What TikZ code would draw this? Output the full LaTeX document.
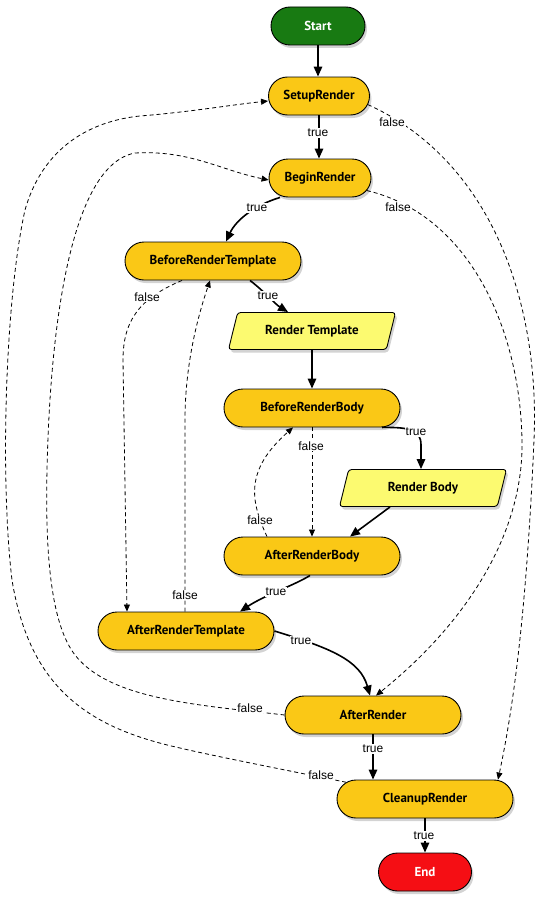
\documentclass[tikz,border=0pt]{standalone}
\usepackage{fontspec}
\usetikzlibrary{arrows.meta,shapes.misc,shapes.geometric,shadows,calc}
\newfontfamily\nodefont{PT Sans}
\newfontfamily\lblfont{Liberation Sans}
\definecolor{startgreen}{RGB}{24,122,18}
\definecolor{endred}{RGB}{245,14,20}
\definecolor{stepfill}{RGB}{250,200,22}
\definecolor{iofill}{RGB}{252,250,112}
\begin{document}
\begin{tikzpicture}[x=1pt,y=-1pt,
  shad/.style={drop shadow={shadow xshift=2pt,shadow yshift=-3pt,opacity=0.35}},
  box/.style={rounded rectangle, draw=black, line width=0.9pt, minimum height=38pt,
    inner sep=2pt, font=\nodefont\bfseries\fontsize{13}{15}\selectfont, shad},
  stepbox/.style={box, fill=stepfill, minimum width=180pt},
  iobox/.style={trapezium, trapezium left angle=60, trapezium right angle=120,
    trapezium stretches body=true, draw=black, line width=0.9pt, fill=iofill,
    minimum width=167pt, minimum height=37pt, rounded corners=3pt, inner sep=2pt,
    font=\nodefont\bfseries\fontsize{13}{15}\selectfont, shad},
  tru/.style={line width=1.6pt, -{Triangle[length=10pt,width=8.5pt]}},
  fls/.style={line width=0.8pt, dash pattern=on 4pt off 3pt, -{Triangle[length=7pt,width=6pt]}},
  lbl/.style={fill=white, inner sep=1pt, font=\lblfont\fontsize{12}{14}\selectfont}
]
\useasboundingbox (0,0) rectangle (539,907);

% nodes
\node[box, fill=startgreen, text=white, minimum width=98pt] (start) at (318,26) {Start};
\node[stepbox, minimum width=105pt] (setup) at (319,96) {SetupRender};
\node[stepbox, minimum width=106pt] (begin) at (320,178) {BeginRender};
\node[stepbox] (brt) at (213,261) {BeforeRenderTemplate};
\node[iobox] (rt) at (312,331) {Render Template};
\node[stepbox] (brb) at (312,408) {BeforeRenderBody};
\node[iobox] (rb) at (423,488) {Render Body};
\node[stepbox] (arb) at (312,556) {AfterRenderBody};
\node[stepbox] (art) at (186,631) {AfterRenderTemplate};
\node[stepbox] (ar) at (373,715) {AfterRender};
\node[stepbox] (cleanup) at (425,799) {CleanupRender};
\node[box, fill=endred, text=white, minimum width=97pt] (end) at (425,872) {End};

% solid (true) connectors
\draw[tru] (start.south) -- (start.south |- setup.north);
\draw[tru] (setup.south) -- (setup.south |- begin.north);
\draw[tru] ([xshift=-40pt]begin.south) .. controls (255,205) and (236,220) .. ([xshift=13pt]brt.north);
\draw[tru] ([xshift=37pt]brt.south) .. controls (265,292) and (275,304) .. ([xshift=-24pt]rt.north);
\draw[tru] (rt.south) -- (brb.north);
\draw[tru] ([xshift=70pt]brb.south) .. controls (410,427) and (421,430) .. (421,445) -- ([xshift=-2pt]rb.north);
\draw[tru] ([xshift=-33pt]rb.south) -- ([xshift=38pt]arb.north);
\draw[tru] ([xshift=-2pt]arb.south) .. controls (295,585) and (265,595) .. ([xshift=54pt]art.north);
\draw[tru] (art.east) .. controls (330,648) and (360,660) .. ([xshift=-3pt]ar.north);
\draw[tru] (ar.south) -- (ar.south |- cleanup.north);
\draw[tru] (cleanup.south) -- (end.north);

% dashed (false) connectors
\draw[fls] (setup.-10) .. controls (490,160) and (540,300) .. (534,440)
  .. controls (527,600) and (515,700) .. ([xshift=73pt]cleanup.north);
\draw[fls] (begin.-15) .. controls (470,215) and (520,330) .. (522,440)
  .. controls (524,530) and (470,620) .. ([xshift=3pt]ar.north);
\draw[fls] ([xshift=-31pt]brt.south) .. controls (140,298) and (123,320) .. (123,360)
  -- ([xshift=-59pt]art.north);
\draw[fls] (brb.south) -- (arb.north);
\draw[fls] ([xshift=-45pt]arb.north) .. controls (250,500) and (245,470) .. ([xshift=-19pt]brb.south);
\draw[fls] ([xshift=-1pt]art.north) -- (185,420) .. controls (185,360) and (200,310) .. ([xshift=-3pt]brt.south);
\draw[fls] (ar.west) .. controls (200,705) and (110,700) .. (75,655)
  .. controls (52,625) and (45,560) .. (47,470)
  .. controls (50,330) and (70,165) .. (135,153)
  .. controls (190,150) and (220,170) .. ([yshift=-2pt]begin.west);
\draw[fls] (cleanup.168) .. controls (260,765) and (210,755) .. (180,748)
  .. controls (90,728) and (30,690) .. (12,580)
  .. controls (0,480) and (5,300) .. (25,210)
  .. controls (45,140) and (100,120) .. (140,116)
  .. controls (190,112) and (230,105) .. ([yshift=-5pt]setup.west);

% labels
\node[lbl] (l1) at (318,133) {true};
\node[lbl] (l2) at (392,122) {false};
\node[lbl] (l3) at (257,208) {true};
\node[lbl] (l4) at (398,207) {false};
\node[lbl] (l5) at (268,296) {true};
\node[lbl] (l6) at (147,297) {false};
\node[lbl] (l7) at (416,432) {true};
\node[lbl] (l8) at (311,446) {false};
\node[lbl] (l9) at (260,520) {false};
\node[lbl] (l10) at (276,592) {true};
\node[lbl] (l11) at (185,595) {false};
\node[lbl] (l12) at (301,641) {true};
\node[lbl] (l13) at (250,708) {false};
\node[lbl] (l14) at (373,749) {true};
\node[lbl] (l15) at (321,775) {false};
\node[lbl] (l16) at (424,836) {true};
\end{tikzpicture}
\end{document}
